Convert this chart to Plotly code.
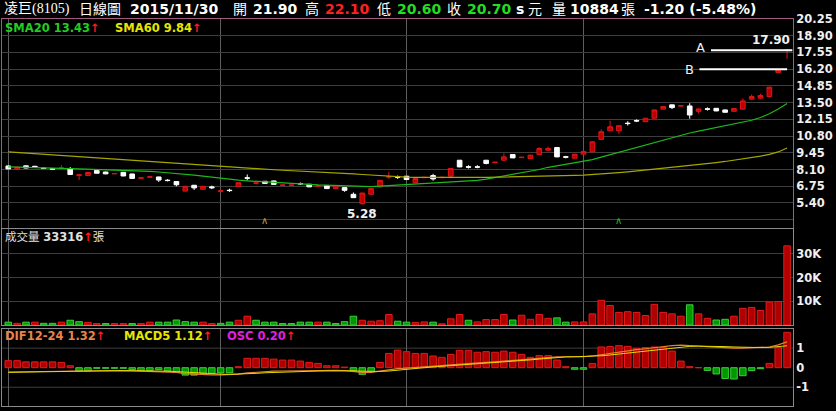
import plotly.graph_objects as go
from plotly.subplots import make_subplots

# ---------------- data ----------------
opens = [8.39, 8.12, 8.40, 8.36, 8.22, 8.17, 8.18, 8.15, 7.63, 7.62,
         8.02, 7.90, 7.75, 7.88, 7.74, 7.40, 7.48, 7.50, 7.24, 7.13,
         6.36, 6.83, 6.50, 6.70, 6.34, 6.43, 6.75, 7.43, 6.99, 7.15,
         7.18, 6.82, 6.82, 6.97, 6.91, 6.76, 6.80, 6.56, 6.64, 6.10,
         5.34, 6.10, 6.69, 7.49, 7.51, 7.56, 7.04, 7.44, 7.61, 7.44,
         7.56, 8.85, 8.32, 8.32, 8.85, 8.66, 8.85, 9.31, 9.06, 8.99,
         9.32, 9.66, 9.88, 9.13, 9.02, 9.34, 9.53, 10.53, 11.23, 11.23,
         11.84, 12.05, 11.96, 12.24, 12.97, 13.32, 13.22, 13.23, 12.80, 13.00,
         13.04, 12.91, 12.80, 12.97, 13.78, 13.86, 13.99, 15.92, 17.72]
highs = [8.42, 8.32, 8.42, 8.40, 8.25, 8.20, 8.45, 8.30, 7.72, 7.88,
         8.04, 7.92, 7.80, 7.90, 7.76, 7.46, 7.54, 7.52, 7.32, 7.15,
         6.78, 6.85, 6.77, 6.80, 6.48, 6.55, 7.06, 7.70, 7.12, 7.17,
         7.20, 6.87, 6.87, 7.05, 6.93, 6.81, 6.82, 6.79, 6.66, 6.25,
         6.22, 6.58, 7.25, 7.91, 7.62, 7.58, 7.39, 7.49, 7.75, 7.49,
         8.20, 8.87, 8.45, 8.45, 8.87, 8.71, 9.40, 9.33, 9.11, 9.28,
         9.90, 9.95, 9.90, 9.20, 9.36, 9.58, 10.36, 11.35, 12.04, 11.66,
         12.00, 12.15, 12.26, 12.93, 13.25, 13.34, 13.27, 13.45, 13.01, 13.12,
         13.06, 12.93, 13.04, 13.85, 14.15, 14.20, 14.77, 16.16, 17.80]
lows = [8.12, 8.10, 8.20, 8.28, 8.15, 8.10, 8.15, 7.68, 7.25, 7.60,
        7.78, 7.72, 7.74, 7.56, 7.35, 7.38, 7.46, 7.10, 7.14, 6.75,
        6.33, 6.45, 6.48, 6.52, 6.25, 6.30, 6.72, 7.22, 6.90, 6.95,
        6.88, 6.80, 6.80, 6.85, 6.68, 6.74, 6.54, 6.54, 6.30, 5.80,
        5.28, 6.08, 6.67, 7.34, 7.34, 7.27, 7.02, 7.42, 7.20, 7.42,
        7.54, 8.29, 8.18, 8.20, 8.52, 8.64, 8.83, 9.02, 9.04, 8.97,
        9.30, 9.64, 9.10, 9.00, 9.00, 9.32, 9.51, 10.51, 11.21, 10.96,
        11.65, 11.93, 11.94, 12.22, 12.95, 12.98, 13.20, 12.20, 12.62, 12.86,
        12.81, 12.70, 12.78, 12.95, 13.76, 13.78, 13.97, 15.88, 17.03]
closes = [8.15, 8.30, 8.22, 8.30, 8.18, 8.13, 8.22, 7.70, 7.67, 7.86,
          7.80, 7.75, 7.78, 7.58, 7.38, 7.43, 7.51, 7.25, 7.21, 6.87,
          6.75, 6.62, 6.75, 6.63, 6.38, 6.40, 7.04, 7.40, 7.02, 6.98,
          6.90, 6.85, 6.85, 6.94, 6.70, 6.79, 6.56, 6.77, 6.42, 5.83,
          6.20, 6.56, 7.23, 7.52, 7.48, 7.29, 7.37, 7.47, 7.34, 7.47,
          8.18, 8.31, 8.29, 8.29, 8.59, 8.69, 9.12, 9.04, 9.09, 9.26,
          9.80, 9.80, 9.12, 9.10, 9.34, 9.56, 10.34, 11.15, 11.55, 11.64,
          11.81, 12.02, 12.24, 12.91, 13.18, 13.10, 13.25, 12.50, 12.99, 12.97,
          12.83, 12.72, 13.02, 13.64, 13.99, 14.07, 14.75, 16.12, 17.76]

sma20 = [8.31, 8.30, 8.29, 8.28, 8.26, 8.24, 8.21, 8.18, 8.16, 8.14,
         8.12, 8.10, 8.08, 8.06, 8.04, 8.00, 7.95, 7.90, 7.85, 7.79,
         7.72, 7.64, 7.56, 7.47, 7.38, 7.30, 7.24, 7.19, 7.14, 7.10,
         7.06, 7.02, 6.98, 6.94, 6.90, 6.86, 6.83, 6.80, 6.77, 6.73,
         6.70, 6.72, 6.76, 6.80, 6.85, 6.90, 6.93, 6.96, 6.99, 7.02,
         7.06, 7.10, 7.15, 7.22, 7.32, 7.45, 7.55, 7.68, 7.80, 7.95,
         8.10, 8.28, 8.40, 8.50, 8.62, 8.72, 8.90, 9.10, 9.30, 9.50,
         9.70, 9.88, 10.05, 10.25, 10.45, 10.65, 10.88, 11.05, 11.20, 11.35,
         11.50, 11.65, 11.78, 11.92, 12.08, 12.30, 12.60, 12.98, 13.43]
sma60 = [9.53, 9.48, 9.43, 9.38, 9.34, 9.29, 9.24, 9.19, 9.14, 9.10,
         9.05, 9.00, 8.95, 8.90, 8.86, 8.81, 8.76, 8.71, 8.66, 8.61,
         8.56, 8.52, 8.47, 8.42, 8.37, 8.32, 8.27, 8.22, 8.17, 8.12,
         8.08, 8.04, 8.01, 7.98, 7.95, 7.92, 7.89, 7.85, 7.80, 7.75,
         7.70, 7.65, 7.60, 7.55, 7.52, 7.49, 7.47, 7.46, 7.45, 7.45,
         7.45, 7.45, 7.46, 7.46, 7.47, 7.48, 7.49, 7.50, 7.51, 7.52,
         7.54, 7.56, 7.58, 7.60, 7.62, 7.64, 7.68, 7.73, 7.79, 7.85,
         7.91, 7.98, 8.05, 8.12, 8.20, 8.28, 8.36, 8.43, 8.50, 8.58,
         8.66, 8.75, 8.85, 8.95, 9.06, 9.18, 9.32, 9.52, 9.84]

volume = [1200, 700, 1200, 1200, 700, 700, 1200, 2000, 1400, 1100,
          600, 600, 600, 600, 600, 600, 1200, 1200, 1200, 2100,
          1400, 1200, 1200, 600, 700, 1200, 2000, 3700, 2000, 1200,
          1200, 600, 600, 1200, 1200, 1200, 1200, 600, 1400, 3700,
          2000, 1600, 1800, 4400, 1600, 1200, 1000, 1300, 1200, 500,
          2600, 4400, 2000, 1300, 2300, 2300, 4400, 2100, 4100, 2400,
          4400, 2800, 3000, 1200, 1300, 1300, 4700, 10400, 8200, 5300,
          5600, 5300, 4000, 8700, 5300, 4700, 3700, 8500, 4700, 2800,
          2100, 2400, 3700, 7000, 7400, 6100, 9600, 9900, 33316]
vol_up = [0, 1, 0, 1, 0, 0, 1, 0, 0, 1,
          1, 0, 1, 1, 0, 1, 1, 0, 0, 0,
          0, 0, 1, 1, 0, 0, 1, 1, 0, 0,
          0, 0, 0, 0, 0, 1, 0, 0, 0, 0,
          1, 1, 1, 1, 0, 0, 1, 1, 0, 1,
          1, 1, 0, 1, 1, 1, 1, 0, 1, 1,
          1, 1, 0, 0, 1, 1, 1, 1, 1, 1,
          1, 1, 1, 1, 1, 1, 1, 0, 1, 1,
          0, 0, 1, 1, 1, 1, 1, 1, 1]

osc = [0.36, 0.36, 0.30, 0.30, 0.30, 0.30, 0.27, 0.10, -0.17, -0.17,
       -0.03, -0.03, -0.03, -0.03, -0.10, -0.14, -0.14, -0.10, -0.17, -0.24,
       -0.38, -0.38, -0.29, -0.29, -0.26, -0.26, 0.05, 0.48, 0.48, 0.48,
       0.44, 0.39, 0.39, 0.34, 0.27, 0.22, 0.10, 0.10, 0.03, -0.14,
       -0.34, -0.20, 0.27, 0.73, 0.90, 0.82, 0.73, 0.73, 0.60, 0.53,
       0.68, 0.89, 0.89, 0.79, 0.82, 0.79, 0.85, 0.79, 0.68, 0.53,
       0.62, 0.62, 0.39, 0.05, -0.08, -0.08, 0.22, 1.06, 1.08, 1.13,
       1.09, 0.99, 1.03, 1.06, 1.03, 0.85, 0.34, 0.05, 0.00, -0.14,
       -0.32, -0.55, -0.58, -0.41, -0.15, -0.05, 0.22, 1.03, 1.81]
dif = [-0.22, -0.21, -0.20, -0.19, -0.18, -0.17, -0.16, -0.16, -0.17, -0.17,
       -0.16, -0.16, -0.15, -0.15, -0.16, -0.17, -0.18, -0.19, -0.21, -0.24,
       -0.30, -0.33, -0.35, -0.37, -0.37, -0.36, -0.33, -0.27, -0.23, -0.20,
       -0.18, -0.17, -0.16, -0.15, -0.15, -0.14, -0.14, -0.14, -0.15, -0.19,
       -0.24, -0.24, -0.18, -0.10, -0.05, -0.02, 0.02, 0.05, 0.08, 0.11,
       0.14, 0.18, 0.21, 0.24, 0.27, 0.30, 0.34, 0.38, 0.42, 0.46,
       0.50, 0.53, 0.55, 0.56, 0.55, 0.56, 0.60, 0.67, 0.74, 0.81,
       0.87, 0.92, 0.97, 1.03, 1.08, 1.13, 1.15, 1.14, 1.11, 1.08,
       1.05, 1.02, 1.00, 1.00, 1.01, 1.02, 1.06, 1.17, 1.32]
macd = [-0.24, -0.23, -0.22, -0.21, -0.20, -0.19, -0.18, -0.17, -0.16, -0.16,
        -0.16, -0.16, -0.15, -0.15, -0.15, -0.16, -0.16, -0.17, -0.18, -0.20,
        -0.23, -0.26, -0.29, -0.31, -0.33, -0.34, -0.33, -0.31, -0.29, -0.26,
        -0.24, -0.22, -0.20, -0.19, -0.18, -0.17, -0.16, -0.15, -0.15, -0.16,
        -0.18, -0.20, -0.19, -0.17, -0.12, -0.08, -0.04, 0.00, 0.04, 0.07,
        0.10, 0.13, 0.16, 0.19, 0.22, 0.25, 0.28, 0.32, 0.36, 0.40,
        0.44, 0.48, 0.52, 0.55, 0.56, 0.57, 0.58, 0.61, 0.65, 0.70,
        0.75, 0.80, 0.85, 0.90, 0.95, 1.00, 1.05, 1.09, 1.10, 1.10,
        1.09, 1.08, 1.06, 1.04, 1.03, 1.03, 1.04, 1.08, 1.12]

price_ticks = [4.05, 5.40, 6.75, 8.10, 9.45, 10.80, 12.15, 13.50, 14.85, 16.20, 17.55, 18.90, 20.25]
vol_ticks = [10000, 20000, 30000]
vol_ticktext = ["10K", "20K", "30K"]
macd_ticks = [-1, 0, 1]
month_starts = [0, 24, 45, 65]

line_a, line_b = 17.72, 16.20
low_idx, low_val = 40, 5.28
marks = [29, 69]

# (left pixel, text, colour, bold, serif)
header_parts = [
    (2, "凌巨(8105)", "#ffffff", False, True),
    (77, "日線圖", "#ffffff", False, False),
    (128, "2015/11/30", "#ffffff", True, False),
    (231, "開", "#ffffff", False, False),
    (251, "21.90", "#ffffff", True, False),
    (303, "高", "#ffffff", False, False),
    (323, "22.10", "#ff2020", True, False),
    (375, "低", "#ffffff", False, False),
    (395, "20.60", "#22dd22", True, False),
    (445, "收", "#ffffff", False, False),
    (465, "20.70", "#22dd22", True, False),
    (514, "s", "#ffffff", True, False),
    (526, "元", "#ffffff", False, False),
    (550, "量", "#ffffff", False, False),
    (568, "10884", "#ffffff", True, False),
    (619, "張", "#ffffff", False, False),
    (642, "-1.20 (-5.48%)", "#ffffff", True, False),
]

# ---------------- figure ----------------
W, H = 836, 411
ML, MR, MT, MB = 2, 43, 19, 5
PW, PH = W - ML - MR, H - MT - MB
FONT = "DejaVu Sans, Noto Sans CJK TC"
SERIF = "Liberation Serif, Noto Sans CJK TC"
PINK = "#a35a82"
GRAYBORDER = "#8a8a8a"

idx = list(range(len(opens)))

fig = make_subplots(rows=3, cols=1, shared_xaxes=True, vertical_spacing=0.0)

fig.add_trace(go.Candlestick(
    x=idx, open=opens, high=highs, low=lows, close=closes,
    increasing=dict(line=dict(color="#e01414", width=1), fillcolor="#b80000"),
    decreasing=dict(line=dict(color="#ffffff", width=1), fillcolor="#ffffff"),
    whiskerwidth=0, hoverinfo="skip", showlegend=False), row=1, col=1)
fig.add_trace(go.Scatter(x=idx, y=sma20, mode="lines",
                         line=dict(color="#1cb81c", width=1.2), hoverinfo="skip"), row=1, col=1)
fig.add_trace(go.Scatter(x=idx, y=sma60, mode="lines",
                         line=dict(color="#a6a600", width=1.2), hoverinfo="skip"), row=1, col=1)

vcol = ["#b00000" if u else "#009a00" for u in vol_up]
vline = ["#e41a1a" if u else "#3ccc3c" for u in vol_up]
fig.add_trace(go.Bar(x=idx, y=volume, width=0.74,
                     marker=dict(color=vcol, line=dict(color=vline, width=1)),
                     hoverinfo="skip"), row=2, col=1)

ocol = ["#b00000" if v >= 0 else "#009a00" for v in osc]
oline = ["#e41a1a" if v >= 0 else "#3ccc3c" for v in osc]
fig.add_trace(go.Bar(x=idx, y=osc, width=0.74,
                     marker=dict(color=ocol, line=dict(color=oline, width=1)),
                     hoverinfo="skip"), row=3, col=1)
fig.add_trace(go.Scatter(x=idx, y=dif, mode="lines",
                         line=dict(color="#e8802a", width=1.2), hoverinfo="skip"), row=3, col=1)
fig.add_trace(go.Scatter(x=idx, y=macd, mode="lines",
                         line=dict(color="#e6d800", width=1.0), hoverinfo="skip"), row=3, col=1)

def py(px):
    return (H - MB - px) / PH

def px_x(px):
    return (px - ML) / PW

tickfont = dict(family="DejaVu Sans", size=11.5, color="#f0f0f0", weight="bold")
xcommon = dict(range=[-0.71, 88.67], tickvals=month_starts, showticklabels=False,
               showgrid=True, gridcolor="#5e5e5e", gridwidth=1, ticks="", zeroline=False,
               showline=True, mirror=True, linewidth=1, rangeslider=dict(visible=False))
fig.update_layout(
    xaxis=dict(xcommon, linecolor=PINK),
    xaxis2=dict(xcommon, linecolor=GRAYBORDER),
    xaxis3=dict(xcommon, linecolor=GRAYBORDER),
    yaxis=dict(domain=[py(228), 1.0], range=[3.38, 20.25], side="right",
               tickvals=price_ticks,
               ticktext=["" if i == 0 else f"{v:.2f}" for i, v in enumerate(price_ticks)],
               tickfont=tickfont, showgrid=True, gridcolor="#3e3e3e", zeroline=False,
               ticks="", showline=True, mirror=True, linecolor=PINK),
    yaxis2=dict(domain=[py(325), py(229)], range=[0, 40400], side="right",
                tickvals=vol_ticks, ticktext=vol_ticktext, tickfont=tickfont,
                showgrid=True, gridcolor="#3e3e3e", zeroline=False, ticks="",
                showline=True, mirror=True, linecolor=GRAYBORDER),
    yaxis3=dict(domain=[0.0, py(329)], range=[-1.96, 1.98], side="right",
                tickvals=macd_ticks, ticktext=[str(v) for v in macd_ticks], tickfont=tickfont,
                showgrid=False, zeroline=False, ticks="",
                showline=True, mirror=True, linecolor=GRAYBORDER),
    width=W, height=H, margin=dict(l=ML, r=MR, t=MT, b=MB),
    paper_bgcolor="#000000", plot_bgcolor="#000000",
    showlegend=False, boxgap=0.25, bargap=0, hovermode=False,
    font=dict(family=FONT, color="#ffffff"),
)

shapes = []
for v in (-1, 1):
    shapes.append(dict(type="line", xref="x3 domain", yref="y3", x0=0, x1=1, y0=v, y1=v,
                       line=dict(color="#3e3e3e", width=1), layer="below"))
shapes.append(dict(type="line", xref="x", yref="y", x0=79.4, x1=88.6, y0=line_a, y1=line_a,
                   line=dict(color="#ffffff", width=2)))
shapes.append(dict(type="line", xref="x", yref="y", x0=78.1, x1=88.0, y0=line_b, y1=line_b,
                   line=dict(color="#ffffff", width=2)))
fig.update_layout(shapes=shapes)

ann = []
for x0, txt, col, bold, serif in header_parts:
    ann.append(dict(xref="paper", yref="paper", x=px_x(x0), y=py(9), xanchor="left",
                    yanchor="middle", showarrow=False,
                    text=f"<b>{txt}</b>" if bold else txt,
                    font=dict(family=SERIF if serif else FONT, size=14, color=col)))

ARROW = '<span style="color:#ff1a1a"><b>↑</b></span>'
ann += [
    dict(xref="paper", yref="paper", x=px_x(3), y=py(28), xanchor="left", yanchor="middle",
         showarrow=False, text="<b>SMA20 13.43</b>" + ARROW,
         font=dict(family=FONT, size=11.5, color="#22cc22")),
    dict(xref="paper", yref="paper", x=px_x(113), y=py(28), xanchor="left", yanchor="middle",
         showarrow=False, text="<b>SMA60 9.84</b>" + ARROW,
         font=dict(family=FONT, size=11.5, color="#e6e600")),
    dict(xref="paper", yref="paper", x=px_x(3), y=py(237), xanchor="left", yanchor="middle",
         showarrow=False, text="成交量 <b>33316</b>" + ARROW + "張",
         font=dict(family=FONT, size=11.5, color="#e0e0e0")),
    dict(xref="paper", yref="paper", x=px_x(3), y=py(336), xanchor="left", yanchor="middle",
         showarrow=False, text="<b>DIF12-24 1.32</b>" + ARROW,
         font=dict(family=FONT, size=11.5, color="#e8844a")),
    dict(xref="paper", yref="paper", x=px_x(122), y=py(336), xanchor="left", yanchor="middle",
         showarrow=False, text="<b>MACD5 1.12</b>" + ARROW,
         font=dict(family=FONT, size=11.5, color="#e6e600")),
    dict(xref="paper", yref="paper", x=px_x(225), y=py(336), xanchor="left", yanchor="middle",
         showarrow=False, text="<b>OSC 0.20</b>" + ARROW,
         font=dict(family=FONT, size=11.5, color="#e020e0")),
    dict(xref="x", yref="y", x=low_idx, y=low_val, xanchor="center", yanchor="top", yshift=-1,
         showarrow=False, text=f"<b>{low_val:.2f}</b>",
         font=dict(family=FONT, size=12, color="#f0f0f0")),
    dict(xref="x", yref="y", x=88.6, y=line_a, xanchor="right", yanchor="bottom", yshift=1,
         showarrow=False, text="<b>17.90</b>",
         font=dict(family=FONT, size=12, color="#f0f0f0")),
    dict(xref="x", yref="y", x=79.0, y=line_a, xanchor="right", yanchor="middle", yshift=3,
         showarrow=False, text="A", font=dict(family=FONT, size=13, color="#f0f0f0")),
    dict(xref="x", yref="y", x=77.7, y=line_b, xanchor="right", yanchor="middle",
         showarrow=False, text="B", font=dict(family=FONT, size=13, color="#f0f0f0")),
]
mark_cols = ["#b0a040", "#30b030"]
for m, c in zip(marks, mark_cols):
    ann.append(dict(xref="x", yref="y", x=m, y=3.38, xanchor="center", yanchor="bottom",
                    showarrow=False, text="∧", font=dict(family=FONT, size=10, color=c)))
fig.update_layout(annotations=ann)

fig.write_html("out.html",
               config={"displayModeBar": False, "staticPlot": True},
               post_script="document.body.style.margin='0px';document.body.style.padding='0px';"
                           "document.body.style.background='#000';")
